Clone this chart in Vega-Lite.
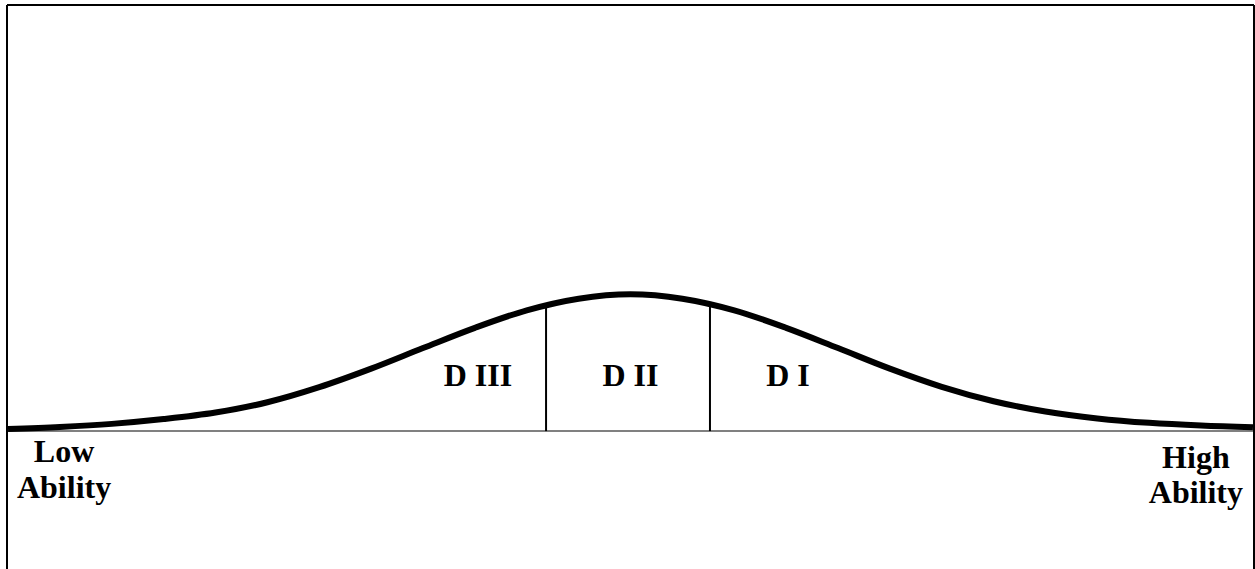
{
  "$schema": "https://vega.github.io/schema/vega-lite/v6.json",
  "width": 1247,
  "height": 564,
  "padding": {"left": 7, "top": 5, "right": 1, "bottom": 0},
  "autosize": {"type": "none"},
  "background": "white",
  "config": {"view": {"stroke": null}},
  "datasets": {
    "curve": [
      {"ability": -3.0, "density": 0.006},
      {"ability": -2.75, "density": 0.012},
      {"ability": -2.5, "density": 0.021},
      {"ability": -2.25, "density": 0.035},
      {"ability": -2.0, "density": 0.054},
      {"ability": -1.75, "density": 0.084},
      {"ability": -1.5, "density": 0.128},
      {"ability": -1.25, "density": 0.182},
      {"ability": -1.0, "density": 0.242},
      {"ability": -0.75, "density": 0.301},
      {"ability": -0.5, "density": 0.352},
      {"ability": -0.25, "density": 0.386},
      {"ability": 0.0, "density": 0.399},
      {"ability": 0.25, "density": 0.386},
      {"ability": 0.5, "density": 0.352},
      {"ability": 0.75, "density": 0.301},
      {"ability": 1.0, "density": 0.242},
      {"ability": 1.25, "density": 0.182},
      {"ability": 1.5, "density": 0.129},
      {"ability": 1.75, "density": 0.087},
      {"ability": 2.0, "density": 0.057},
      {"ability": 2.25, "density": 0.037},
      {"ability": 2.5, "density": 0.024},
      {"ability": 2.75, "density": 0.016},
      {"ability": 3.0, "density": 0.011}
    ],
    "dividers": [
      {"ability": -0.407, "bottom": 0, "top": 0.365},
      {"ability": 0.383, "top": 0.368, "bottom": 0}
    ],
    "frame": [
      {"side": "top"}
    ],
    "labels": [
      {"ability": -0.735, "pos": 0.131, "text": "D III"},
      {"ability": 0.0, "pos": 0.131, "text": "D II"},
      {"ability": 0.759, "pos": 0.131, "text": "D I"},
      {"ability": -2.73, "pos": -0.09, "text": "Low"},
      {"ability": -2.73, "pos": -0.195, "text": "Ability"},
      {"ability": 2.725, "pos": -0.108, "text": "High"},
      {"ability": 2.725, "pos": -0.21, "text": "Ability"}
    ]
  },
  "layer": [
    {
      "data": {"name": "frame"},
      "mark": {"type": "rule", "color": "#808080", "strokeWidth": 2},
      "encoding": {
        "y": {"datum": 0, "type": "quantitative", "scale": {"domain": [-0.402, 1.242], "nice": false, "zero": false}, "axis": null}
      }
    },
    {
      "data": {"name": "dividers"},
      "mark": {"type": "rule", "color": "black", "strokeWidth": 2},
      "encoding": {
        "x": {"field": "ability", "type": "quantitative", "scale": {"domain": [-3.005, 3.005], "nice": false, "zero": false}, "axis": null},
        "y": {"field": "bottom", "type": "quantitative", "scale": {"domain": [-0.402, 1.242], "nice": false, "zero": false}, "axis": null},
        "y2": {"field": "top"}
      }
    },
    {
      "data": {"name": "curve"},
      "mark": {"type": "line", "color": "black", "strokeWidth": 6, "interpolate": "monotone", "strokeCap": "butt"},
      "encoding": {
        "x": {"field": "ability", "type": "quantitative", "scale": {"domain": [-3.005, 3.005], "nice": false, "zero": false}, "axis": null},
        "y": {"field": "density", "type": "quantitative", "scale": {"domain": [-0.402, 1.242], "nice": false, "zero": false}, "axis": null}
      }
    },
    {
      "data": {"name": "labels"},
      "mark": {"type": "text", "font": "Liberation Serif", "fontWeight": "bold", "fontSize": 32, "align": "center", "baseline": "alphabetic", "color": "black"},
      "encoding": {
        "x": {"field": "ability", "type": "quantitative", "scale": {"domain": [-3.005, 3.005], "nice": false, "zero": false}, "axis": null},
        "y": {"field": "pos", "type": "quantitative", "scale": {"domain": [-0.402, 1.242], "nice": false, "zero": false}, "axis": null},
        "text": {"field": "text", "type": "nominal"}
      }
    },
    {
      "data": {"name": "frame"},
      "mark": {"type": "rule", "color": "black", "strokeWidth": 2},
      "encoding": {
        "y": {"datum": 1.242, "type": "quantitative", "scale": {"domain": [-0.402, 1.242], "nice": false, "zero": false}, "axis": null}
      }
    },
    {
      "data": {"name": "frame"},
      "mark": {"type": "rule", "color": "black", "strokeWidth": 2},
      "encoding": {
        "x": {"datum": -3.005, "type": "quantitative", "scale": {"domain": [-3.005, 3.005], "nice": false, "zero": false}, "axis": null}
      }
    },
    {
      "data": {"name": "frame"},
      "mark": {"type": "rule", "color": "black", "strokeWidth": 2},
      "encoding": {
        "x": {"datum": 3.005, "type": "quantitative", "scale": {"domain": [-3.005, 3.005], "nice": false, "zero": false}, "axis": null}
      }
    }
  ]
}
